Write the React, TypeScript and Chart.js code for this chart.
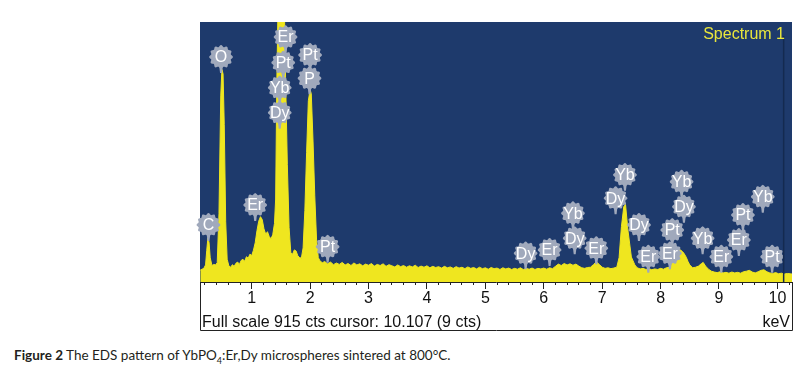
import React, { useEffect, useRef } from "react";
import { Chart, registerables } from "chart.js";

Chart.register(...registerables);

// Energy axis (keV) and measured counts of the spectrum
const energyKeV = [
  0.12, 0.15, 0.18, 0.21, 0.23, 0.25, 0.27, 0.29, 0.32, 0.35,
  0.38, 0.41, 0.44, 0.47, 0.49, 0.51, 0.53, 0.555, 0.58, 0.61,
  0.64, 0.67, 0.70, 0.73, 0.76, 0.79, 0.82, 0.85, 0.88, 0.91,
  0.94, 0.97, 1.00, 1.03, 1.06, 1.09, 1.12, 1.15, 1.18, 1.21,
  1.24, 1.27, 1.30, 1.33, 1.36, 1.39, 1.41, 1.43, 1.45, 1.50,
  1.56, 1.58, 1.61, 1.64, 1.67, 1.70, 1.73, 1.76, 1.79, 1.82,
  1.85, 1.88, 1.91, 1.94, 1.97, 2.00, 2.02, 2.05, 2.08, 2.11,
  2.14, 2.17, 2.21, 2.25, 2.30, 2.35, 2.40, 2.45, 2.50, 2.55,
  2.60, 2.65, 2.70, 2.75, 2.80, 2.85, 2.90, 2.95, 3.00, 3.05,
  3.10, 3.15, 3.20, 3.25, 3.30, 3.35, 3.40, 3.45, 3.50, 3.55,
  3.60, 3.65, 3.70, 3.75, 3.80, 3.85, 3.90, 3.95, 4.00, 4.05,
  4.10, 4.15, 4.20, 4.25, 4.30, 4.35, 4.40, 4.45, 4.50, 4.55,
  4.60, 4.65, 4.70, 4.75, 4.80, 4.85, 4.90, 4.95, 5.00, 5.05,
  5.10, 5.15, 5.20, 5.25, 5.30, 5.35, 5.40, 5.45, 5.50, 5.55,
  5.60, 5.65, 5.70, 5.75, 5.80, 5.85, 5.90, 5.95, 6.00, 6.05,
  6.10, 6.15, 6.20, 6.25, 6.30, 6.35, 6.40, 6.45, 6.50, 6.55,
  6.60, 6.65, 6.70, 6.75, 6.80, 6.85, 6.90, 6.95, 7.00, 7.05,
  7.10, 7.15, 7.20, 7.25, 7.29, 7.33, 7.37, 7.40, 7.44, 7.50,
  7.56, 7.60, 7.65, 7.70, 7.75, 7.80, 7.85, 7.90, 7.95, 8.00,
  8.05, 8.10, 8.16, 8.21, 8.25, 8.29, 8.33, 8.37, 8.40, 8.44,
  8.47, 8.50, 8.55, 8.60, 8.65, 8.70, 8.73, 8.77, 8.82, 8.87,
  8.92, 8.97, 9.02, 9.07, 9.12, 9.17, 9.22, 9.27, 9.32, 9.37,
  9.42, 9.47, 9.52, 9.57, 9.62, 9.67, 9.72, 9.77, 9.82, 9.87,
  9.92, 9.97, 10.02, 10.07, 10.12, 10.17, 10.22, 10.25,
];

const counts = [
  42, 45, 48, 60, 110, 155, 140, 85, 58, 62,
  60, 68, 240, 655, 748, 732, 555, 212, 80, 56,
  52, 61, 55, 66, 70, 62, 76, 80, 73, 89,
  84, 98, 93, 112, 138, 180, 214, 230, 220, 187,
  168, 177, 160, 152, 166, 206, 292, 700, 960, 1000,
  960, 720, 414, 192, 102, 98, 113, 109, 92, 86,
  84, 120, 252, 455, 638, 677, 663, 496, 303, 151,
  86, 74, 68, 72, 64, 70, 61, 67, 62, 69,
  60, 65, 58, 67, 60, 64, 57, 63, 59, 65,
  56, 62, 58, 64, 55, 61, 57, 53, 60, 54,
  58, 52, 57, 53, 59, 51, 56, 52, 57, 50,
  55, 51, 54, 49, 55, 50, 53, 48, 54, 49,
  52, 47, 53, 48, 51, 46, 52, 47, 50, 45,
  51, 47, 49, 44, 50, 46, 49, 44, 48, 45,
  50, 44, 48, 45, 49, 44, 48, 46, 49, 45,
  50, 47, 55, 63, 58, 65, 60, 64, 59, 63,
  56, 50, 48, 51, 52, 61, 71, 62, 52, 48,
  50, 47, 49, 52, 86, 195, 265, 273, 184, 88,
  60, 50, 46, 48, 44, 47, 43, 46, 44, 48,
  45, 50, 52, 73, 96, 107, 114, 108, 101, 87,
  72, 60, 50, 52, 56, 65, 69, 56, 45, 38,
  35, 33, 36, 32, 34, 31, 35, 32, 34, 31,
  36, 38, 41, 35, 32, 36, 41, 43, 36, 32,
  30, 33, 29, 31, 28, 30, 29, 28,
];

// Element marker bubbles: name, energy (keV), height (counts)
const markerNames = [
  "O", "Er", "Pt", "Yb", "Dy", "Pt", "P", "C", "Er", "Pt",
  "Dy", "Er", "Yb", "Dy", "Er", "Yb", "Dy", "Dy", "Er", "Er",
  "Pt", "Yb", "Dy", "Yb", "Er", "Er", "Pt", "Yb", "Pt",
];
const markerEnergies = [
  0.475, 1.58, 1.54, 1.48, 1.48, 2.0, 1.99, 0.26, 1.06, 2.3,
  5.69, 6.1, 6.5, 6.53, 6.9, 7.39, 7.23, 7.63, 7.79, 8.16,
  8.2, 8.36, 8.4, 8.72, 9.04, 9.34, 9.41, 9.75, 9.91,
];
const markerCounts = [
  792, 862, 772, 684, 596, 799, 717, 201, 271, 124,
  101, 113, 242, 154, 119, 377, 295, 201, 89, 101,
  183, 353, 265, 154, 89, 148, 236, 300, 89,
];

const xMin = 0.115;
const xMax = 10.25;
const fullScale = 915;
const cursorKeV = 10.107;
const cursorCounts = 9;
const spectrumTitle = "Spectrum 1";
const axisUnit = "keV";

const BLUE = "#1e3a6c";
const YELLOW = "#efe61f";
const BUBBLE = "#a0a9bc";
const FONT = "'Liberation Sans', Arial, sans-serif";

function drawBubble(ctx: CanvasRenderingContext2D, cx: number, cy: number, text: string) {
  const r = 11;
  ctx.save();
  ctx.fillStyle = BUBBLE;
  ctx.beginPath();
  ctx.moveTo(cx - 1.8, cy + r - 2);
  ctx.lineTo(cx + 1.8, cy + r - 2);
  ctx.lineTo(cx + 1, cy + r + 5);
  ctx.lineTo(cx - 1, cy + r + 5);
  ctx.closePath();
  ctx.fill();
  ctx.beginPath();
  const n = 96;
  for (let i = 0; i <= n; i++) {
    const th = (2 * Math.PI * i) / n;
    const rr = r + 0.9 * Math.cos(12 * th);
    const x = cx + rr * Math.cos(th);
    const y = cy + rr * Math.sin(th);
    if (i === 0) ctx.moveTo(x, y);
    else ctx.lineTo(x, y);
  }
  ctx.closePath();
  ctx.fill();
  ctx.fillStyle = "#ffffff";
  ctx.font = `16px ${FONT}`;
  ctx.textAlign = "center";
  ctx.textBaseline = "middle";
  ctx.fillText(text, cx, cy + 1);
  ctx.restore();
}

const edsPlugin = {
  id: "edsDecor",
  beforeDatasetsDraw(chart: any) {
    const { ctx, chartArea } = chart;
    ctx.save();
    ctx.fillStyle = BLUE;
    ctx.fillRect(chartArea.left, chartArea.top, chartArea.right - chartArea.left, chartArea.bottom - chartArea.top);
    ctx.restore();
  },
  afterDatasetsDraw(chart: any) {
    const { ctx, chartArea, scales } = chart;
    const xs = scales.x;
    const ys = scales.y;
    for (let i = 0; i < markerNames.length; i++) {
      drawBubble(ctx, xs.getPixelForValue(markerEnergies[i]), ys.getPixelForValue(markerCounts[i]), markerNames[i]);
    }
    const cx = xs.getPixelForValue(cursorKeV);
    ctx.save();
    ctx.strokeStyle = "#142a50";
    ctx.lineWidth = 1.5;
    ctx.beginPath();
    ctx.moveTo(cx, chartArea.top + 14);
    ctx.lineTo(cx, chartArea.bottom);
    ctx.stroke();
    ctx.fillStyle = "#e9e63c";
    ctx.font = `16px ${FONT}`;
    ctx.textAlign = "right";
    ctx.textBaseline = "alphabetic";
    ctx.fillText(spectrumTitle, chartArea.right - 7, chartArea.top + 17);
    ctx.restore();
  },
  afterDraw(chart: any) {
    const { ctx, chartArea } = chart;
    const boxBottom = chartArea.bottom + 48;
    ctx.save();
    ctx.strokeStyle = "#222";
    ctx.lineWidth = 1;
    ctx.beginPath();
    ctx.moveTo(chartArea.left + 0.5, chartArea.bottom);
    ctx.lineTo(chartArea.left + 0.5, boxBottom + 0.5);
    ctx.lineTo(chartArea.right + 0.5, boxBottom + 0.5);
    ctx.lineTo(chartArea.right + 0.5, chartArea.bottom);
    ctx.stroke();
    ctx.fillStyle = "#111";
    ctx.font = `16px ${FONT}`;
    ctx.textBaseline = "alphabetic";
    ctx.textAlign = "left";
    ctx.fillText(`Full scale ${fullScale} cts cursor: ${cursorKeV.toFixed(3)} (${cursorCounts} cts)`, chartArea.left + 2, boxBottom - 3);
    ctx.textAlign = "right";
    ctx.fillText(axisUnit, chartArea.right - 2, boxBottom - 3);
    ctx.restore();
  },
};

export default function App() {
  const canvasRef = useRef<HTMLCanvasElement | null>(null);

  useEffect(() => {
    document.body.style.margin = "0";
    const canvas = canvasRef.current;
    if (!canvas) return;
    const chart = new Chart(canvas, {
      type: "line",
      data: {
        datasets: [
          {
            data: energyKeV.map((e, i) => ({ x: e, y: counts[i] })),
            borderColor: YELLOW,
            backgroundColor: YELLOW,
            borderWidth: 1,
            pointRadius: 0,
            fill: "origin",
            tension: 0,
          },
        ],
      },
      options: {
        responsive: false,
        animation: false,
        events: [],
        layout: { padding: { left: 200, right: 8, top: 22, bottom: 9 } },
        plugins: { legend: { display: false }, tooltip: { enabled: false } },
        scales: {
          x: {
            type: "linear",
            position: "bottom",
            weight: 0,
            min: xMin,
            max: xMax,
            afterBuildTicks: (axis: any) => {
              const t = [];
              for (let k = 1; k <= 51; k++) t.push({ value: k / 5 });
              axis.ticks = t;
            },
            afterFit: (axis: any) => {
              axis.height = 0;
            },
            ticks: { autoSkip: false, maxRotation: 0, display: false },
            grid: { drawOnChartArea: false, drawTicks: true, tickLength: 3, color: "#222" },
            border: { display: true, color: "#222" },
          },
          xMajor: {
            type: "linear",
            position: "bottom",
            weight: 1,
            min: xMin,
            max: xMax,
            afterBuildTicks: (axis: any) => {
              const t = [];
              for (let k = 1; k <= 10; k++) t.push({ value: k });
              axis.ticks = t;
            },
            afterFit: (axis: any) => {
              axis.height = 49;
            },
            ticks: {
              autoSkip: false,
              maxRotation: 0,
              padding: 0,
              color: "#111",
              font: { family: FONT, size: 16 },
              callback: (v: any) => String(Math.round(v)),
            },
            grid: { drawOnChartArea: false, drawTicks: true, tickLength: 7, color: "#222" },
            border: { display: false },
          },
          y: { display: false, min: 0, max: fullScale },
        },
      },
      plugins: [edsPlugin],
    });
    return () => chart.destroy();
  }, []);

  return (
    <div style={{ position: "relative", width: 800, height: 371, background: "#fff" }}>
      <canvas ref={canvasRef} width={800} height={340} style={{ display: "block" }} />
      <div
        style={{
          position: "absolute",
          left: 14,
          top: 348,
          fontFamily: "Lato, 'Open Sans', sans-serif",
          fontSize: 13.5,
          color: "#231f20",
          whiteSpace: "nowrap",
          lineHeight: "15px",
        }}
      >
        <b>Figure 2</b> The EDS pattern of YbPO<sub style={{ fontSize: 9, lineHeight: 0 }}>4</sub>:Er,Dy microspheres sintered at 800°C.
      </div>
    </div>
  );
}
